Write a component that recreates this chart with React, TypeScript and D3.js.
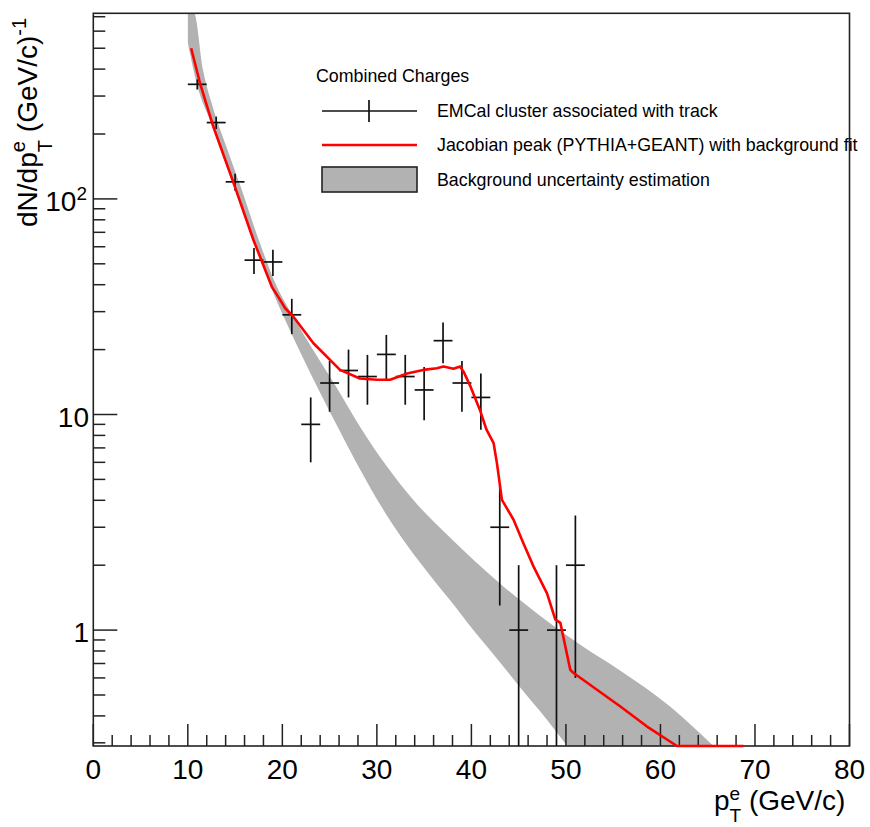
import React, { useEffect, useRef } from 'react';
import * as d3 from 'd3';

// measured points, 2 GeV bins
const binCenters = [11, 13, 15, 17, 19, 21, 23, 25, 27, 29, 31, 33, 35, 37, 39, 41, 43, 45, 49, 51];
const counts = [340, 226, 120, 52, 51, 29, 9, 14, 16, 15, 19, 15, 13, 22, 14, 12, 3, 1, 1, 2];
const countErrors = [18.4, 15, 11, 7.2, 7.1, 5.4, 3, 3.7, 4, 3.9, 4.4, 3.9, 3.6, 4.7, 3.7, 3.5, 1.7, 1, 1, 1.4];
const binHalfWidth = 1;

// Jacobian peak + background fit (red)
const fitX = [10.35, 11.3, 12.7, 14.8, 16.94, 18.9, 19.5, 20.3, 21.17, 23.29, 26.1, 28.2, 30, 31.4, 33.2, 34.9, 36.35, 37.05, 38.1, 38.8, 39.17, 39.9, 40.9, 41.6, 42.35, 42.7, 43.23, 44.46, 45.5, 46.58, 48.0, 48.88, 49.41, 50.46, 50.81, 55.76, 58.58, 61.75, 68.8];
const fitY = [500, 343, 216, 120, 64.5, 39, 35.5, 31.1, 28.4, 21.4, 16.1, 14.7, 14.5, 14.5, 15.5, 16.1, 16.4, 16.7, 16.3, 16.7, 15.8, 13.5, 10.5, 8.5, 7.36, 5.95, 4.02, 3.25, 2.53, 1.97, 1.48, 1.12, 1.08, 0.655, 0.632, 0.442, 0.357, 0.29, 0.29];

// background uncertainty band
const bgLowX = [10, 10.98, 12.56, 14.68, 16.8, 18.7, 20.29, 21.88, 24.0, 26.12, 28.24, 30.36, 32.48, 35.34, 37.77, 40.2, 43.06, 45.18, 47.82, 50.14];
const bgLowY = [528, 337.6, 220.2, 119.9, 66.6, 39.9, 27.5, 19.5, 12.6, 8.31, 5.54, 3.81, 2.74, 1.86, 1.37, 1.0, 0.706, 0.54, 0.392, 0.29];
const bgHighX = [10, 10.66, 11.61, 12.67, 14.05, 15.53, 17.43, 19.44, 21.35, 23.26, 25.58, 28.23, 31.09, 33.84, 37.76, 43.05, 48.03, 51.52, 55.76, 61.05, 65.6];
const bgHighY = [1050, 727.7, 396, 263.9, 175.9, 116, 65.9, 39, 27.5, 19.9, 13.7, 8.76, 5.72, 4.02, 2.68, 1.64, 1.1, 0.855, 0.648, 0.441, 0.29];

const xTickValues = [0, 10, 20, 30, 40, 50, 60, 70, 80];
const yMajorTicks = [1, 10, 100];
const yLabelBase = ['1', '10', '10'];
const yLabelSup = ['', '', '2'];

const legendLabels = [
  'EMCal cluster associated with track',
  'Jacobian peak (PYTHIA+GEANT) with background fit',
  'Background uncertainty estimation',
];

const FONT = '"Liberation Sans", Arial, Helvetica, sans-serif';

export default function App() {
  const ref = useRef<SVGSVGElement>(null);

  useEffect(() => {
    const width = 870;
    const height = 827;
    const left = 93.3, right = 849.5, top = 13.3, bottom = 746;

    const root = d3.select(ref.current);
    root.selectAll('*').remove();
    const svg = root.attr('width', width).attr('height', height).style('font-family', FONT);

    svg.append('rect').attr('width', width).attr('height', height).attr('fill', '#ffffff');

    const x = d3.scaleLinear().domain([0, 80]).range([left, right]);
    const y = d3.scaleLog().domain([0.29, 726]).range([bottom, top]).clamp(true);

    svg.append('clipPath').attr('id', 'plotclip')
      .append('rect').attr('x', left).attr('y', top).attr('width', right - left).attr('height', bottom - top);

    // band
    const edge = d3.line<[number, number]>()
      .x(d => x(d[0]))
      .y(d => y(d[1]))
      .curve(d3.curveMonotoneX);
    const upper: [number, number][] = bgHighX.map((v, i) => [v, bgHighY[i]]);
    const lower: [number, number][] = bgLowX.map((v, i) => [v, bgLowY[i]]);
    const up = edge(upper) as string;
    const lo = edge(lower.slice().reverse()) as string;
    svg.append('path')
      .attr('clip-path', 'url(#plotclip)')
      .attr('d', up + 'L' + lo.slice(1) + 'Z')
      .attr('fill', '#b2b2b2')
      .attr('stroke', 'none');

    // frame
    svg.append('rect')
      .attr('x', left).attr('y', top)
      .attr('width', right - left).attr('height', bottom - top)
      .attr('fill', 'none').attr('stroke', '#222').attr('stroke-width', 1.6);

    // x ticks
    const xMinor = x.ticks(40);
    svg.append('g').selectAll('line').data(xMinor).enter().append('line')
      .attr('x1', d => x(d)).attr('x2', d => x(d))
      .attr('y1', bottom)
      .attr('y2', d => (xTickValues.includes(d) ? bottom - 22 : bottom - 11))
      .attr('stroke', '#222').attr('stroke-width', 1.5);
    svg.append('g').selectAll('text').data(xTickValues).enter().append('text')
      .attr('x', d => x(d)).attr('y', 779)
      .attr('text-anchor', 'middle')
      .style('font-size', '28px')
      .attr('fill', '#000')
      .text(d => String(d));

    // y ticks
    const yTicks = y.ticks();
    svg.append('g').selectAll('line').data(yTicks).enter().append('line')
      .attr('x1', left)
      .attr('x2', d => (yMajorTicks.includes(d) ? left + 24 : left + 12))
      .attr('y1', d => y(d)).attr('y2', d => y(d))
      .attr('stroke', '#222').attr('stroke-width', 1.5);
    yMajorTicks.forEach((v, i) => {
      const t = svg.append('text')
        .attr('x', yLabelSup[i] ? 87 : 89)
        .attr('y', y(v) + 12)
        .attr('text-anchor', 'end')
        .style('font-size', '28px')
        .attr('fill', '#000');
      t.append('tspan').text(yLabelBase[i]);
      if (yLabelSup[i]) {
        t.append('tspan').attr('dy', -11).style('font-size', '19px').text(yLabelSup[i]);
      }
    });

    // axis titles
    const xt = svg.append('text').attr('x', 714).attr('y', 810)
      .style('font-size', '28px').style('white-space', 'pre').attr('fill', '#000');
    xt.append('tspan').text('p');
    xt.append('tspan').attr('dy', -10).style('font-size', '19px').text('e');
    xt.append('tspan').attr('dx', -10.6).attr('dy', 22).style('font-size', '19px').text('T');
    xt.append('tspan').attr('dy', -12).text(' (GeV/c)');

    const yt = svg.append('text').attr('transform', 'translate(37,227) rotate(-90)')
      .style('font-size', '28px').style('white-space', 'pre').attr('fill', '#000');
    yt.append('tspan').text('dN/dp');
    yt.append('tspan').attr('dy', -12).style('font-size', '20px').text('e');
    yt.append('tspan').attr('dx', -11).attr('dy', 27).style('font-size', '20px').text('T');
    yt.append('tspan').attr('dy', -15).text(' (GeV/c)');
    yt.append('tspan').attr('dy', -11).style('font-size', '20px').text('-1');

    // data points with error bars
    const pts = svg.append('g').attr('stroke', '#111').attr('stroke-width', 1.7);
    binCenters.forEach((c, i) => {
      pts.append('line')
        .attr('x1', x(c - binHalfWidth)).attr('x2', x(c + binHalfWidth))
        .attr('y1', y(counts[i])).attr('y2', y(counts[i]));
      pts.append('line')
        .attr('x1', x(c)).attr('x2', x(c))
        .attr('y1', y(counts[i] + countErrors[i]))
        .attr('y2', y(Math.max(counts[i] - countErrors[i], 0.0001)));
    });

    // fit curve
    const fitLine = d3.line<number>()
      .x((d, i) => x(fitX[i]))
      .y(d => y(d));
    svg.append('path')
      .datum(fitY)
      .attr('fill', 'none')
      .attr('stroke', '#ff0000')
      .attr('stroke-width', 2.6)
      .attr('stroke-linejoin', 'round')
      .attr('d', fitLine);

    // legend
    const lg = svg.append('g');
    lg.append('text').attr('x', 316).attr('y', 82).style('font-size', '17.8px').attr('fill', '#000')
      .text('Combined Charges');
    const rowY = [111, 145, 179.5];
    lg.append('line').attr('x1', 322).attr('x2', 417).attr('y1', rowY[0]).attr('y2', rowY[0])
      .attr('stroke', '#111').attr('stroke-width', 1.7);
    lg.append('line').attr('x1', 369).attr('x2', 369).attr('y1', 100).attr('y2', 122)
      .attr('stroke', '#111').attr('stroke-width', 1.7);
    lg.append('line').attr('x1', 322).attr('x2', 417).attr('y1', rowY[1]).attr('y2', rowY[1])
      .attr('stroke', '#ff0000').attr('stroke-width', 2.6);
    lg.append('rect').attr('x', 322).attr('y', 167).attr('width', 95).attr('height', 25)
      .attr('fill', '#b2b2b2').attr('stroke', '#222').attr('stroke-width', 1.6);
    legendLabels.forEach((t, i) => {
      lg.append('text').attr('x', 437).attr('y', rowY[i] + 6)
        .style('font-size', '17.8px').attr('fill', '#000').text(t);
    });
  }, []);

  return (
    <div style={{ position: 'absolute', left: 0, top: 0 }}>
      <svg ref={ref} />
    </div>
  );
}
